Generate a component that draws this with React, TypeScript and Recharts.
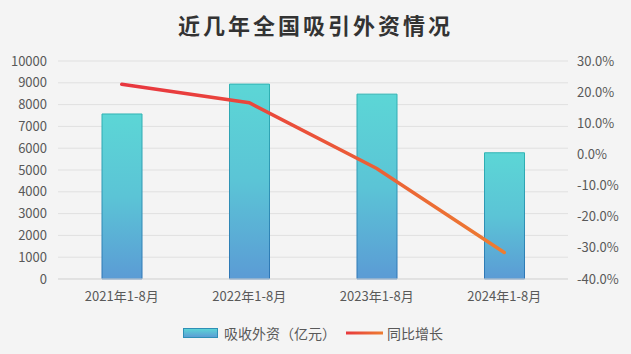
import React from 'react';
import { ComposedChart, Bar, Line, XAxis, YAxis, CartesianGrid } from 'recharts';

const categories = ['2021年1-8月', '2022年1-8月', '2023年1-8月', '2024年1-8月'];
const investment = [7570, 8940, 8480, 5790];
const growth = [22.5, 16.6, -4.5, -31.5];
const leftTicks = [0, 1000, 2000, 3000, 4000, 5000, 6000, 7000, 8000, 9000, 10000];
const rightTicks = [-40, -30, -20, -10, 0, 10, 20, 30];
const seriesNames = ['吸收外资（亿元）', '同比增长'];

const data = categories.map((c, i) => ({ name: c, inv: investment[i], growth: growth[i] }));

const FONT = '"Noto Sans CJK SC", "Noto Sans", sans-serif';
const TICK = { fill: '#595959', fontSize: 13, fontFamily: FONT };

const LegendContent = () => (
  <div style={{ display: 'flex', alignItems: 'center', fontFamily: FONT, fontSize: 14, color: '#595959', lineHeight: '20px' }}>
    <svg width={36} height={10} style={{ marginRight: 5 }}>
      <defs>
        <linearGradient id="legBar" x1="0" y1="0" x2="0" y2="1">
          <stop offset="0%" stopColor="#5cd6d6" />
          <stop offset="100%" stopColor="#5b9bd5" />
        </linearGradient>
      </defs>
      <rect x={0.5} y={0.5} width={34} height={9} fill="url(#legBar)" stroke="#2e8fb6" strokeWidth={1} />
    </svg>
    <span style={{ marginRight: 10 }}>{seriesNames[0]}</span>
    <svg width={37} height={6} style={{ marginRight: 4 }}>
      <defs>
        <linearGradient id="legLine" x1="0" y1="0" x2="1" y2="0">
          <stop offset="0%" stopColor="#e8383d" />
          <stop offset="100%" stopColor="#ed7d31" />
        </linearGradient>
      </defs>
      <rect x={0} y={1.5} width={37} height={3} fill="url(#legLine)" />
    </svg>
    <span>{seriesNames[1]}</span>
  </div>
);

export default function App() {
  return (
    <div style={{ position: 'fixed', left: 0, top: 0, width: 631, height: 354, background: '#f4f4f4' }}>
      <div
        style={{
          position: 'absolute',
          left: 0,
          top: 9,
          width: 631,
          textAlign: 'center',
          fontFamily: FONT,
          fontWeight: 'bold',
          fontSize: 22,
          letterSpacing: 3,
          color: '#333333',
          lineHeight: '30px',
        }}
      >
        近几年全国吸引外资情况
      </div>
      <ComposedChart
        width={631}
        height={354}
        data={data}
        margin={{ top: 61, right: 0, bottom: 45, left: 0 }}
        style={{ position: 'absolute', left: 0, top: 0 }}
      >
        <defs>
          <linearGradient id="barFill" x1="0" y1="0" x2="0" y2="1">
            <stop offset="0%" stopColor="#5cd6d6" />
            <stop offset="50%" stopColor="#5bc4d6" />
            <stop offset="100%" stopColor="#5b9bd5" />
          </linearGradient>
          <linearGradient id="barStroke" x1="0" y1="0" x2="0" y2="1">
            <stop offset="0%" stopColor="#2fb3b3" />
            <stop offset="100%" stopColor="#2e75b6" />
          </linearGradient>
          <linearGradient id="lineGrad" x1="0" y1="0" x2="1" y2="0">
            <stop offset="0%" stopColor="#e8363f" />
            <stop offset="40%" stopColor="#ea4a3b" />
            <stop offset="100%" stopColor="#ed7d31" />
          </linearGradient>
        </defs>
        <CartesianGrid yAxisId="left" vertical={false} stroke="#e0e0e0" strokeWidth={1} />
        <XAxis
          dataKey="name"
          tick={TICK}
          tickLine={false}
          axisLine={{ stroke: '#d9d9d9' }}
          tickSize={0}
          tickMargin={13}
          height={30}
          interval={0}
        />
        <YAxis
          yAxisId="left"
          domain={[0, 10000]}
          ticks={leftTicks}
          tick={TICK}
          tickLine={false}
          axisLine={false}
          tickSize={0}
          tickMargin={11}
          width={58}
          interval={0}
        />
        <YAxis
          yAxisId="right"
          orientation="right"
          domain={[-40, 30]}
          ticks={rightTicks}
          tick={TICK}
          tickFormatter={(v: number) => v.toFixed(1) + '%'}
          tickLine={false}
          axisLine={false}
          tickSize={0}
          tickMargin={9}
          width={63}
          interval={0}
        />
        <Bar
          yAxisId="left"
          dataKey="inv"
          name={seriesNames[0]}
          barSize={40}
          fill="url(#barFill)"
          stroke="url(#barStroke)"
          strokeWidth={1}
          isAnimationActive={false}
        />
        <Line
          yAxisId="right"
          dataKey="growth"
          name={seriesNames[1]}
          type="linear"
          stroke="url(#lineGrad)"
          strokeWidth={3.5}
          strokeLinecap="round"
          dot={false}
          activeDot={false}
          isAnimationActive={false}
        />
      </ComposedChart>
      <div style={{ position: 'absolute', left: 183, top: 323 }}>
        <LegendContent />
      </div>
    </div>
  );
}
